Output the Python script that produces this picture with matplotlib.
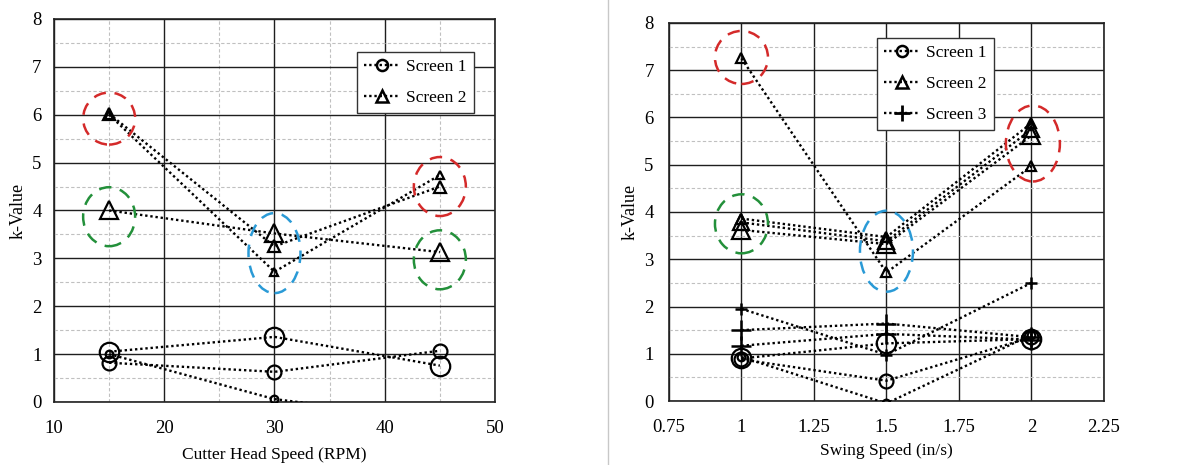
import matplotlib
matplotlib.use("Agg")
import matplotlib.pyplot as plt
from matplotlib.patches import Ellipse
from matplotlib.lines import Line2D
from matplotlib.ticker import MultipleLocator

plt.rcParams["font.family"] = ["Liberation Serif", "DejaVu Serif"]
plt.rcParams["font.size"] = 12.5

# -----------------------------
# data
# -----------------------------
cutter_speed = [15, 30, 45]
cutter_screen1 = [
    [1.05, 1.36, 0.76],
    [0.82, 0.63, 1.07],
    [1.00, 0.06, -0.36],
]
cutter_screen2 = [
    [4.00, 3.52, 3.13],
    [6.02, 3.25, 4.50],
    [6.00, 2.72, 4.74],
]

swing_speed = [1.0, 1.5, 2.0]
swing_screen1 = [
    [0.90, 1.22, 1.31],
    [0.88, 0.43, 1.35],
    [0.93, -0.05, 1.40],
]
swing_screen2 = [
    [3.62, 3.32, 5.62],
    [3.78, 3.38, 5.75],
    [3.86, 3.47, 5.88],
    [7.25, 2.72, 4.97],
]
swing_screen3 = [
    [1.50, 1.64, 1.35],
    [1.17, 1.42, 1.30],
    [1.95, 0.98, 2.50],
]

# marker sizes per series (large / medium / small)
circle_sizes = [14, 10, 5.5]
tri_left_sizes = [13, 9, 6]
tri_right_sizes = [13, 11, 7, 7]
plus_sizes = [15, 15, 8]

RED = "#d42a2a"
GREEN = "#23903a"
BLUE = "#2a9ad6"

# highlight rings: (x, y, width px, height px, colour)
left_rings = [
    (15, 5.92, 52, 52, RED),
    (15, 3.87, 52, 59, GREEN),
    (30, 3.11, 52, 80, BLUE),
    (45, 4.50, 52, 59, RED),
    (45, 2.97, 52, 59, GREEN),
]
right_rings = [
    (1.0, 7.27, 53, 53, RED),
    (1.0, 3.75, 53, 59, GREEN),
    (1.5, 3.17, 53, 81, BLUE),
    (2.005, 5.45, 54, 76, RED),
]

DOT = (0, (1, 1.2))

fig = plt.figure(figsize=(11.95, 4.65), dpi=100)
ax1 = fig.add_axes([0.0452, 0.1355, 0.369, 0.8237])
ax2 = fig.add_axes([0.5598, 0.1376, 0.364, 0.813])

# separator between the two panels
fig.add_artist(Line2D([608 / 1195, 608 / 1195], [0, 1], color="#c8c8c8", lw=1))


def style_axes(ax, xlim, xmajor, xminor, pad_y):
    ax.set_xlim(*xlim)
    ax.set_ylim(0, 8)
    ax.xaxis.set_major_locator(MultipleLocator(xmajor))
    ax.yaxis.set_major_locator(MultipleLocator(1))
    ax.yaxis.set_minor_locator(MultipleLocator(0.5))
    if xminor:
        ax.xaxis.set_minor_locator(MultipleLocator(xminor))
        ax.grid(True, which="minor", axis="x", color="#c0c0c0", ls=(0, (3, 2)), lw=0.8)
    ax.grid(True, which="minor", axis="y", color="#c0c0c0", ls=(0, (3, 2)), lw=0.8)
    ax.grid(True, which="major", color="#1e1e1e", lw=1.0)
    ax.set_axisbelow(True)
    ax.tick_params(which="both", length=0, labelsize=13.5)
    ax.tick_params(axis="y", pad=pad_y)
    ax.tick_params(axis="x", pad=13)
    for s in ax.spines.values():
        s.set_color("#222222")
        s.set_linewidth(1.2)
    ax.set_ylabel("k-Value", labelpad=4, fontsize=13)


def add_rings(ax, rings):
    fig.canvas.draw()
    bb = ax.get_window_extent()
    x0, x1 = ax.get_xlim()
    y0, y1 = ax.get_ylim()
    px_x = bb.width / (x1 - x0)
    px_y = bb.height / (y1 - y0)
    for x, y, w, h, c in rings:
        ax.add_patch(Ellipse((x, y), w / px_x, h / px_y, fill=False,
                             edgecolor=c, lw=1.8, ls=(0, (5, 3.5)), zorder=5))


def plot_series(ax, xs, series, marker, sizes, mew=1.6):
    for ys, ms in zip(series, sizes):
        ax.plot(xs, ys, color="black", ls=DOT, lw=1.7, marker=marker,
                ms=ms, mfc="none", mec="black", mew=mew, zorder=4)


leg_kw = dict(loc="upper right", fancybox=False, framealpha=1, edgecolor="#333333",
              handlelength=2.1, borderpad=0.4, labelspacing=0.85,
              handletextpad=0.35, borderaxespad=0)

# -----------------------------
# left panel - cutter head speed
# -----------------------------
style_axes(ax1, (10, 50), 10, 5, 9)
plot_series(ax1, cutter_speed, cutter_screen1, "o", circle_sizes)
plot_series(ax1, cutter_speed, cutter_screen2, "^", tri_left_sizes)
ax1.set_xlabel("Cutter Head Speed (RPM)", labelpad=7)
add_rings(ax1, left_rings)

h1 = Line2D([], [], color="black", ls=DOT, lw=1.7, marker="o", ms=8, mfc="none", mew=1.8)
h2 = Line2D([], [], color="black", ls=DOT, lw=1.7, marker="^", ms=8, mfc="none", mew=1.8)
leg = ax1.legend([h1, h2], ["Screen 1", "Screen 2"],
                 bbox_to_anchor=(0.952, 0.914), **leg_kw)
leg.get_frame().set_linewidth(1.0)

# -----------------------------
# right panel - swing speed
# -----------------------------
style_axes(ax2, (0.75, 2.25), 0.25, None, 11)
plot_series(ax2, swing_speed, swing_screen1, "o", circle_sizes)
plot_series(ax2, swing_speed, swing_screen2, "^", tri_right_sizes)
plot_series(ax2, swing_speed, swing_screen3, "+", plus_sizes, mew=1.8)
ax2.set_xlabel("Swing Speed (in/s)", labelpad=5)
ax2.set_xticks([0.75, 1, 1.25, 1.5, 1.75, 2, 2.25])
ax2.set_xticklabels(["0.75", "1", "1.25", "1.5", "1.75", "2", "2.25"])
add_rings(ax2, right_rings)

h3 = Line2D([], [], color="black", ls=DOT, lw=1.7, marker="+", ms=12, mew=2)
leg2 = ax2.legend([h1, h2, h3], ["Screen 1", "Screen 2", "Screen 3"],
                  bbox_to_anchor=(0.747, 0.960), **leg_kw)
leg2.get_frame().set_linewidth(1.0)

fig.savefig("out.png", dpi=100)
